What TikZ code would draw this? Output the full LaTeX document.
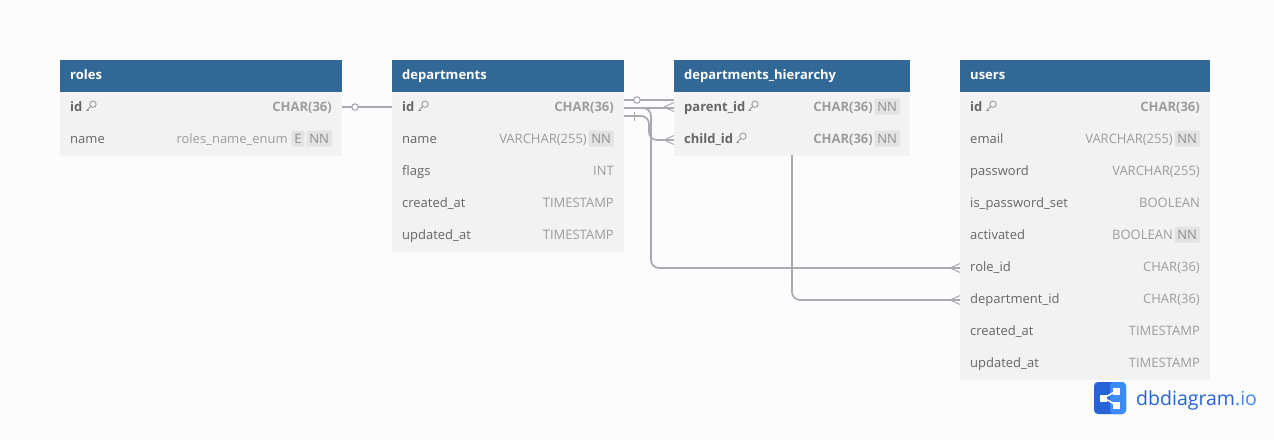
\documentclass[tikz,border=0pt]{standalone}
\usepackage{fontspec}
\setmainfont{Open Sans}
\definecolor{bg}{HTML}{FCFCFC}
\definecolor{hdr}{HTML}{316896}
\definecolor{body}{HTML}{F2F2F2}
\definecolor{fieldname}{HTML}{666666}
\definecolor{typec}{HTML}{9C9C9C}
\definecolor{badge}{HTML}{E3E3E3}
\definecolor{badgetext}{HTML}{8E8E8E}
\definecolor{conn}{HTML}{A9A9B2}
\definecolor{logoa}{HTML}{2563D6}
\definecolor{logob}{HTML}{3D8BF5}
\tikzset{
 x=1pt,y=-1pt,
 bodybox/.style={fill=body,draw=none,minimum height=0pt,inner sep=0pt},
 hdrbox/.style={fill=hdr,draw=none},
 hdrtext/.style={anchor=base west,inner sep=0pt,text=white,font=\fontsize{13}{13}\selectfont\bfseries},
 fname/.style={anchor=base west,inner sep=0pt,text=fieldname,font=\fontsize{13}{13}\selectfont},
 fnameb/.style={fname,font=\fontsize{13}{13}\selectfont\bfseries},
 ftype/.style={anchor=base east,inner sep=0pt,text=typec,font=\fontsize{13}{13}\selectfont},
 ftypeb/.style={ftype,font=\fontsize{13}{13}\selectfont\bfseries},
 badgebox/.style={fill=badge,rounded corners=1.5pt,anchor=base east,text=badgetext,inner xsep=2.8pt,inner ysep=0pt,text height=13pt,text depth=3.2pt,font=\fontsize{13}{13}\selectfont},
 link/.style={draw=conn,line width=1.7pt,rounded corners=8pt},
 crow/.style={draw=conn,line width=1pt},
 keyicon/.style={draw=fieldname!70,line width=.8pt},
}
% #1 x, #2 y-centre
\newcommand{\keyat}[2]{%
  \draw[keyicon] (#1+7,#2-1.8) circle[radius=3.2pt];
  \draw[keyicon] (#1+4.7,#2+.5) -- (#1+.8,#2+4.5) -- (#1+3.2,#2+4.5);
}
\newcommand{\crowat}[2]{%
  \draw[crow] (#1-10,#2) -- (#1,#2-4.5);
  \draw[crow] (#1-10,#2) -- (#1,#2+4.5);
}
\begin{document}
\begin{tikzpicture}
\useasboundingbox (0,0) rectangle (1274,440);
\fill[bg] (0,0) rectangle (1274,440);

% roles
\node[hdrbox,minimum width=282pt,minimum height=32pt,anchor=north west,inner sep=0pt] (rolesH) at (60,60) {};
\node[bodybox,minimum width=282pt,minimum height=64pt,anchor=north west] (rolesB) at (60,92) {};
\node[hdrtext] (rolesT) at (70,79) {roles};
\node[fnameb] (rolesId) at (70,111.5) {id};
\keyat{86}{106}
\node[ftypeb] (rolesIdT) at (332,111.5) {CHAR(36)};
\node[fname] (rolesName) at (70,143.5) {name};
\node[badgebox] (rolesNN) at (332,143.5) {NN};
\node[badgebox] (rolesE) at (304.5,143.5) {E};
\node[ftype] (rolesNameT) at (288,143.5) {roles\_name\_enum};

% departments
\node[hdrbox,minimum width=232pt,minimum height=32pt,anchor=north west,inner sep=0pt] (depH) at (392,60) {};
\node[bodybox,minimum width=232pt,minimum height=160pt,anchor=north west] (depB) at (392,92) {};
\node[hdrtext] (depT) at (402,79) {departments};
\node[fnameb] (depId) at (402,111.5) {id};
\keyat{418}{106}
\node[ftypeb] (depIdT) at (614,111.5) {CHAR(36)};
\node[fname] (depName) at (402,143.5) {name};
\node[badgebox] (depNN) at (614,143.5) {NN};
\node[ftype] (depNameT) at (587,143.5) {VARCHAR(255)};
\node[fname] (depFlags) at (402,175.5) {flags};
\node[ftype] (depFlagsT) at (614,175.5) {INT};
\node[fname] (depC) at (402,207.5) {created\_at};
\node[ftype] (depCT) at (614,207.5) {TIMESTAMP};
\node[fname] (depU) at (402,239.5) {updated\_at};
\node[ftype] (depUT) at (614,239.5) {TIMESTAMP};

% hierarchy
\node[hdrbox,minimum width=236pt,minimum height=32pt,anchor=north west,inner sep=0pt] (hH) at (674,60) {};
\node[bodybox,minimum width=236pt,minimum height=64pt,anchor=north west] (hB) at (674,92) {};
\node[hdrtext] (hT) at (684,79) {departments\_hierarchy};
\node[fnameb] (hP) at (684,111.5) {parent\_id};
\keyat{748}{106}
\node[badgebox] (hPN) at (900,111.5) {NN};
\node[ftypeb] (hPT) at (873,111.5) {CHAR(36)};
\node[fnameb] (hC) at (684,143.5) {child\_id};
\keyat{736}{138}
\node[badgebox] (hCN) at (900,143.5) {NN};
\node[ftypeb] (hCT) at (873,143.5) {CHAR(36)};

% users
\node[hdrbox,minimum width=250pt,minimum height=32pt,anchor=north west,inner sep=0pt] (uH) at (960,60) {};
\node[bodybox,minimum width=250pt,minimum height=288pt,anchor=north west] (uB) at (960,92) {};
\node[hdrtext] (uT) at (970,79) {users};
\node[fnameb] (uId) at (970,111.5) {id};
\keyat{986}{106}
\node[ftypeb] (uIdT) at (1200,111.5) {CHAR(36)};
\node[fname] (uE) at (970,143.5) {email};
\node[badgebox] (uEN) at (1200,143.5) {NN};
\node[ftype] (uET) at (1173,143.5) {VARCHAR(255)};
\node[fname] (uP) at (970,175.5) {password};
\node[ftype] (uPT) at (1200,175.5) {VARCHAR(255)};
\node[fname] (uS) at (970,207.5) {is\_password\_set};
\node[ftype] (uST) at (1200,207.5) {BOOLEAN};
\node[fname] (uA) at (970,239.5) {activated};
\node[badgebox] (uAN) at (1200,239.5) {NN};
\node[ftype] (uAT) at (1173,239.5) {BOOLEAN};
\node[fname] (uR) at (970,271.5) {role\_id};
\node[ftype] (uRT) at (1200,271.5) {CHAR(36)};
\node[fname] (uD) at (970,303.5) {department\_id};
\node[ftype] (uDT) at (1200,303.5) {CHAR(36)};
\node[fname] (uC) at (970,335.5) {created\_at};
\node[ftype] (uCT) at (1200,335.5) {TIMESTAMP};
\node[fname] (uU) at (970,367.5) {updated\_at};
\node[ftype] (uUT) at (1200,367.5) {TIMESTAMP};

% connectors
\coordinate (p1) at (342,107); \coordinate (p2) at (392,107);
\draw[link] (p1) -- (p2);
\draw[conn,line width=1.1pt,fill=bg] (355,107) circle[radius=3.2pt];

\coordinate (a1) at (624,100); \coordinate (a2) at (674,100);
\draw[link] (a1) -- (a2);
\draw[conn,line width=1.1pt,fill=bg] (637,100) circle[radius=3.2pt];

\coordinate (b1) at (624,108); \coordinate (b2) at (960,268);
\draw[link] (b1) -- (651,108) -- (651,268) -- (b2);

\coordinate (c1) at (624,116); \coordinate (c2) at (674,140);
\draw[link] (c1) -- (649,116) -- (649,140) -- (c2);
\draw[crow] (634,111.5) -- (634,120.5);

\coordinate (d1) at (674,108);
\draw[link] (b1) -- (d1);

\coordinate (e1) at (792,155); \coordinate (e2) at (960,300);
\draw[link] (e1) -- (792,300) -- (e2);

\crowat{674}{107}
\crowat{674}{140}
\crowat{960}{268}
\crowat{960}{300}

% logo
\fill[logoa,rounded corners=4pt] (1094,382) rectangle (1126,414);
\fill[logob,rounded corners=4pt] (1110,382) -- (1126,382) -- (1126,414) -- (1110,414) -- cycle;
\draw[white,line width=1.5pt] (1104,398) -- (1116,391) (1104,398) -- (1116,405);
\fill[white] (1100,394.5) rectangle (1107,401.5);
\fill[white] (1113,387.5) rectangle (1120,394.5);
\fill[white] (1113,401.5) rectangle (1120,408.5);
\node[anchor=base west,inner sep=0pt,text=logoa,font=\fontsize{19.5}{20}\selectfont] (logoT) at (1136,405) {dbdiagram\textcolor{logob}{.io}};
\end{tikzpicture}
\end{document}
